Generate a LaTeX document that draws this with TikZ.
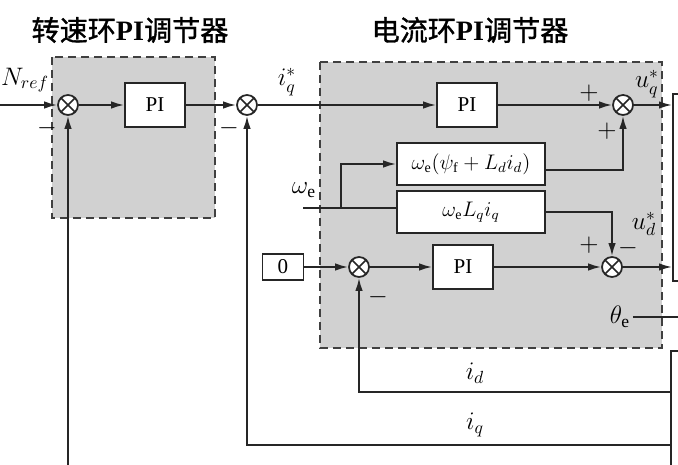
\documentclass[tikz,border=0pt]{standalone}
\usepackage{fontspec}
\setmainfont{Liberation Serif}
\newfontfamily\cjk{Noto Sans CJK SC}[FakeBold=1.2]
\usetikzlibrary{arrows.meta}

\begin{document}
\begin{tikzpicture}[
    x=0.02cm, y=-0.02cm,
    line width=1pt, draw=black!85,
    every node/.style={font=\large},
    >={Latex[length=2.6mm,width=1.5mm]}
]

\tikzset{
  sum/.style={circle, draw, fill=white, minimum size=0.4cm, inner sep=0pt,
    path picture={\draw[line width=0.9pt]
      (path picture bounding box.north west)--(path picture bounding box.south east)
      (path picture bounding box.north east)--(path picture bounding box.south west);}},
  blk/.style={rectangle, draw, fill=white, inner sep=0pt},
  piblk/.style={blk, minimum width=1.2cm, minimum height=0.88cm},
  wblk/.style={blk, minimum width=2.96cm, minimum height=0.84cm},
  zone/.style={draw=black!75, fill=black!18, dash pattern=on 0.16cm off 0.1cm, line width=1.4pt},
  ttl/.style={font=\fontsize{16}{18}\selectfont},
  lbl/.style={font=\Large, inner sep=1pt},
  sgn/.style={font=\Large, inner sep=0pt}
}

\useasboundingbox (0,0) rectangle (678,465);
\clip (0,0) rectangle (678,465);

% ================= zones =================

\draw[zone] (52,57) rectangle (215,218);
\draw[zone] (320,62) rectangle (662,348);

\node[ttl] (t1) at (130,30) {{\cjk 转速环}\textbf{PI}{\cjk 调节器}};
\node[ttl] (t2) at (470,30) {{\cjk 电流环}\textbf{PI}{\cjk 调节器}};

% ================= speed loop =================

\node[sum]   (s1)  at (68,105)  {};
\node[piblk] (pi1) at (155,105) {PI};
\node[sum]   (s2)  at (247,105) {};

\coordinate (nin) at (0,105);
\coordinate (nfb) at (68,465);

\draw[->] (nin) -- (s1);
\draw[->] (s1) -- (pi1);
\draw[->] (pi1) -- (s2);
\draw[->] (nfb) -- (s1.south);

\node[lbl] (nref) at (25,80)  {$N_{ref}$};
\node[sgn] (m1)   at (47,128) {$-$};
\node[sgn] (m2)   at (229,128) {$-$};

% ================= current loop =================

\node[piblk] (piq)  at (467,105) {PI};
\node[sum]   (sq)   at (623,105) {};
\node[wblk]  (wpsi) at (471,164) {$\omega_{\mathrm e}(\psi_{\mathrm f}+L_d i_d)$};
\node[wblk]  (wlq)  at (471,212) {$\omega_{\mathrm e}L_q i_q$};

\node[blk, minimum width=0.82cm, minimum height=0.52cm] (zero) at (283,267) {0};
\node[sum]   (sid) at (359,267) {};
\node[piblk] (pid) at (463,267) {PI};
\node[sum]   (sd)  at (612,267) {};

% blocks cut by the right edge
\node[blk, anchor=north west, minimum width=1cm, minimum height=3.74cm] (inv) at (672,93) {};
\node[blk, anchor=north west, minimum width=1cm, minimum height=3cm] (mot) at (670,350) {};

\coordinate (wein) at (303,208);
\coordinate (wbr)  at (341,208);
\coordinate (idr)  at (670,392);
\coordinate (iqr)  at (670,445);
\coordinate (thr)  at (678,317);

\draw[->] (s2) -- (piq);
\draw[->] (piq) -- (sq);
\draw[->] (sq) -- (sq -| inv.west);
\draw[->] ([yshift=-0.12cm]wpsi.east) -| (sq.south);
\draw[->] (wlq.east) -| (sd.north);
\draw (wein) -- (wein -| wlq.west);
\draw[->] (wbr) |- (wpsi.west);

\draw[->] (zero) -- (sid);
\draw[->] (sid) -- (pid);
\draw[->] (pid) -- (sd);
\draw[->] (sd) -- (sd -| inv.west);

\draw[->] (idr) -| (sid.south);
\draw[->] (iqr) -| (s2.south);

\node[lbl] (iqs)    at (287,82)  {$i_q^{*}$};
\node[lbl] (uqs)    at (647,84)  {$u_q^{*}$};
\node[lbl] (uds)    at (644,224) {$u_d^{*}$};
\node[lbl] (we)     at (304,190) {$\omega_{\mathrm e}$};
\node[lbl] (thetae) at (620,317) {$\theta_{\mathrm e}$};
\node[lbl] (idl)    at (475,373) {$i_d$};
\node[lbl] (iql)    at (475,425) {$i_q$};

\draw (thetae.east) -- (thr);

\node[sgn] (pq1) at (589,93)  {$+$};
\node[sgn] (pq2) at (607,131) {$+$};
\node[sgn] (pd1) at (589,245) {$+$};
\node[sgn] (md2) at (628,248) {$-$};
\node[sgn] (mid) at (378,297) {$-$};

\end{tikzpicture}
\end{document}
